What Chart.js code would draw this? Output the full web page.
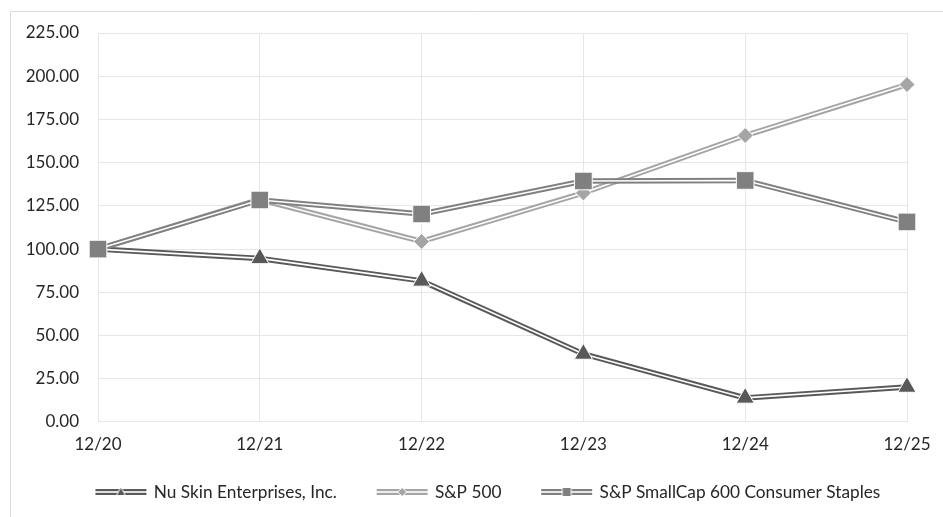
<!DOCTYPE html>
<html>
<head>
<meta charset="utf-8">
<script src="https://cdn.jsdelivr.net/npm/chart.js@4/dist/chart.umd.min.js"></script>
<style>
  html, body { margin: 0; padding: 0; background: #ffffff; }
  #wrap { width: 943px; height: 517px; }
</style>
</head>
<body>
<div id="wrap"><canvas id="chart" width="943" height="517"></canvas></div>
<script>
// Cumulative total return, indexed to 100 at 12/20
const periods = ['12/20', '12/21', '12/22', '12/23', '12/24', '12/25'];
const nuSkin = [100.00, 94.6, 81.6, 39.3, 13.9, 20.2];
const sp500 = [100.00, 128.7, 104.4, 132.5, 165.7, 195.2];
const smallCapStaples = [100.00, 128.4, 120.3, 139.4, 139.7, 115.7];
const seriesNames = ['Nu Skin Enterprises, Inc.', 'S&P 500', 'S&P SmallCap 600 Consumer Staples'];
const yTicks = { min: 0, max: 225, step: 25 };

const FONT = 'Lato, "Liberation Sans", sans-serif';
const colors = ['#595959', '#a5a5a5', '#808080'];
const markers = [
  { style: 'triangle', radius: 10.5 },
  { style: 'rectRot', radius: 8 },
  { style: 'rect', radius: 12.5 }
];
const seriesData = [nuSkin, sp500, smallCapStaples];

// Legend swatch: double line with a marker in the middle, sitting near the
// right-hand end of a wider transparent canvas so it sits close to the label text.
const SWATCH_BOX = 64.5;
function legendSwatch(color, kind) {
  const c = document.createElement('canvas');
  c.width = 75; c.height = 14;
  const g = c.getContext('2d');
  const w = 51, x0 = 20, cy = 7, cx = x0 + w / 2;
  g.fillStyle = color;
  g.fillRect(x0, cy - 3, w, 6);
  g.fillStyle = '#ffffff';
  g.fillRect(x0, cy - 0.8, w, 1.6);
  g.fillStyle = color;
  g.strokeStyle = '#ffffff';
  g.lineWidth = 1;
  g.beginPath();
  if (kind === 'triangle') {
    g.moveTo(cx, cy - 5); g.lineTo(cx + 4.5, cy + 3.5); g.lineTo(cx - 4.5, cy + 3.5); g.closePath();
  } else if (kind === 'rectRot') {
    g.moveTo(cx, cy - 4.5); g.lineTo(cx + 4.5, cy); g.lineTo(cx, cy + 4.5); g.lineTo(cx - 4.5, cy); g.closePath();
  } else {
    g.rect(cx - 4.5, cy - 4.5, 9, 9);
  }
  g.fill();
  g.stroke();
  return c;
}

const datasets = [];
// outer strokes (legend entries)
seriesData.forEach((d, i) => {
  datasets.push({
    label: seriesNames[i], data: d, borderColor: colors[i], backgroundColor: colors[i],
    borderWidth: 5.5, pointRadius: 0, pointHoverRadius: 0, tension: 0,
    order: 9 - i * 3, role: 'outer', swatch: legendSwatch(colors[i], markers[i].style)
  });
});
// white centre stroke giving the double-line look
seriesData.forEach((d, i) => {
  datasets.push({
    label: seriesNames[i] + ' inner', data: d, borderColor: '#ffffff',
    borderWidth: 1.6, pointRadius: 0, pointHoverRadius: 0, tension: 0,
    order: 8 - i * 3, role: 'inner'
  });
});
// markers
seriesData.forEach((d, i) => {
  datasets.push({
    label: seriesNames[i] + ' markers', data: d, showLine: false,
    pointStyle: markers[i].style, pointRadius: markers[i].radius, pointHoverRadius: markers[i].radius,
    pointBackgroundColor: colors[i], pointBorderColor: '#ffffff', pointBorderWidth: 1,
    order: 7 - i * 3, role: 'marker'
  });
});

const frame = {
  id: 'frame',
  beforeDraw(chart) {
    const ctx = chart.ctx;
    ctx.save();
    ctx.fillStyle = '#ffffff';
    ctx.fillRect(0, 0, chart.width, chart.height);
    ctx.strokeStyle = '#d9d9d9';
    ctx.lineWidth = 1;
    ctx.beginPath();
    ctx.moveTo(10.5, chart.height);
    ctx.lineTo(10.5, 11.5);
    ctx.lineTo(chart.width, 11.5);
    ctx.stroke();
    ctx.restore();
  }
};

new Chart(document.getElementById('chart'), {
  type: 'line',
  data: { labels: periods, datasets },
  plugins: [frame],
  options: {
    responsive: false,
    animation: false,
    events: [],
    layout: { padding: { left: 18, top: 33, right: 0, bottom: 6.4 } },
    scales: {
      x: {
        offset: false,
        grid: { color: '#e6e6e6', lineWidth: 1, drawTicks: false },
        border: { display: false },
        ticks: { color: '#262626', font: { family: FONT, size: 17 }, padding: 12, maxRotation: 0 },
        afterFit(scale) {
          scale.height = 36.4;
          scale.paddingLeft = 0;
          scale.paddingRight = 36;
        }
      },
      y: {
        min: yTicks.min, max: yTicks.max,
        grid: { color: '#e6e6e6', lineWidth: 1, drawTicks: false },
        border: { display: false },
        ticks: {
          stepSize: yTicks.step, color: '#262626', font: { family: FONT, size: 17 }, padding: 19,
          callback: (v) => Number(v).toFixed(2)
        },
        afterFit(scale) { scale.width = 80; }
      }
    },
    plugins: {
      tooltip: { enabled: false },
      legend: {
        position: 'bottom',
        labels: {
          usePointStyle: true,
          pointStyleWidth: SWATCH_BOX,
          padding: 25,
          color: '#262626',
          font: { family: FONT, size: 17.25 },
          generateLabels(chart) {
            return chart.data.datasets
              .map((ds, i) => ({ ds, i }))
              .filter(o => o.ds.role === 'outer')
              .map(o => ({
                text: o.ds.label, datasetIndex: o.i, pointStyle: o.ds.swatch,
                fillStyle: o.ds.borderColor, strokeStyle: o.ds.borderColor,
                lineWidth: 0, hidden: false, fontColor: '#262626'
              }));
          }
        }
      }
    }
  }
});
</script>
</body>
</html>
